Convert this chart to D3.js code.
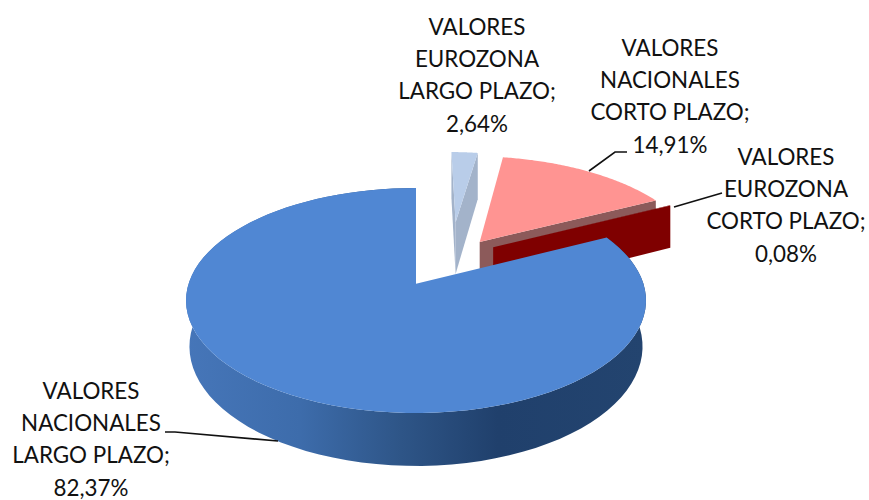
<!DOCTYPE html>
<html><head><meta charset="utf-8">
<script src="https://cdn.jsdelivr.net/npm/d3@7"></script>
<style>html,body{margin:0;background:#fff}svg{display:block}text{font-family:Lato,sans-serif;font-size:22.4px;fill:#111;text-anchor:middle}</style>
</head><body><svg id="c" width="869" height="500"></svg>
<script>
const categories=["VALORES EUROZONA LARGO PLAZO","VALORES NACIONALES CORTO PLAZO","VALORES EUROZONA CORTO PLAZO","VALORES NACIONALES LARGO PLAZO"];
const values=[2.64,14.91,0.08,82.37];
const topColors=["#b9cde9","#ff9492","#7f0000","#5087d3"];
const wallColors=["#a3b3ca","#8c5a5a","#7f0000","#3c6cab"];
const labelLines=[["VALORES","EUROZONA","LARGO PLAZO;","2,64%"],["VALORES","NACIONALES","CORTO PLAZO;","14,91%"],["VALORES","EUROZONA","CORTO PLAZO;","0,08%"],["VALORES","NACIONALES","LARGO PLAZO;","82,37%"]];

const explodeX=[0.19,0.297,0.357,0], explodeY=[-0.608,-0.402,-0.348,0];
const radiusK=[0.85,1,1,1], depthS=[1.25,1,1.05,1];
const labelX=[477,670,786,91], labelY=[35,56,165,399], lineGap=32.2;
const leaders=[null,[[589,171],[615,152],[627,152]],[[674,207],[722,193]],[[165,432],[175,432],[278,441]]];
const cx=416,cy=300.5,rx=230,ry=112.5,a=-0.15,depthK=45;

const svg=d3.select("#c");
const defs=svg.append("defs");
const g=defs.append("linearGradient").attr("id","side").attr("gradientUnits","userSpaceOnUse").attr("x1",185).attr("x2",645).attr("y1",0).attr("y2",0);
[[0,"#4676b9"],[.25,"#3d6cab"],[.47,"#2e5587"],[.68,"#20406c"],[1,"#23446f"]].forEach(s=>g.append("stop").attr("offset",s[0]).attr("stop-color",s[1]));

const project=(u,v)=>{const d=1+a*v;return {x:cx+rx*u*Math.sqrt(1-a*a)/d,y:cy+ry*(v+a)/d,dep:depthK/d}};
const arcs=d3.pie().sort(null).value(d=>d)(values);
const line=d3.line().x(d=>d.x).y(d=>d.y);
arcs.forEach((s,i)=>{
  const ex=explodeX[i], ey=explodeY[i], r=radiusK[i];
  const pt=t=>project(ex+r*Math.sin(t),ey-r*Math.cos(t));
  s.apex=project(ex,ey);
  s.rim=d3.range(0,91).map(k=>pt(s.startAngle+(s.endAngle-s.startAngle)*k/90));
  s.down=p=>({x:cx+(p.x-cx)*(i===3?0.985:1),y:p.y+p.dep*depthS[i]});
});
const draw=(pts,fill)=>svg.append("path").attr("d",line(pts)+"Z").attr("fill",fill);
[0,1,2].forEach(i=>{
  const s=arcs[i];const e=s.rim[s.rim.length-1];
  draw([s.apex,e,s.down(e),s.down(s.apex)],wallColors[i]);
  if(i===0) draw([s.apex,s.rim[0],s.down(s.rim[0]),s.down(s.apex)],wallColors[i]);
  draw([s.apex,...s.rim],topColors[i]);
});
{
  const s=arcs[3];
  draw([...s.rim,...s.rim.map(s.down).reverse()],"url(#side)");
  draw([s.apex,...s.rim],topColors[3]);
}
leaders.forEach(l=>{if(l)svg.append("path").attr("d",d3.line()(l)).attr("fill","none").attr("stroke","#111").attr("stroke-width",1.6)});
labelLines.forEach((ls,i)=>{
  const t=svg.append("text");
  ls.forEach((w,k)=>t.append("tspan").attr("x",labelX[i]).attr("y",labelY[i]+k*lineGap).text(w));
});
</script></body></html>
